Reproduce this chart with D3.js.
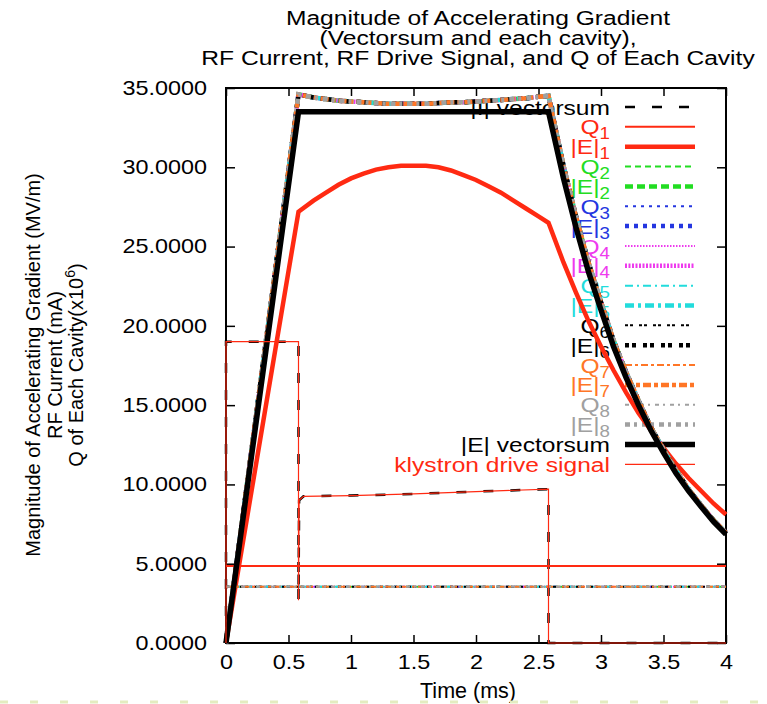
<!DOCTYPE html>
<html>
<head>
<meta charset="utf-8">
<script src="https://cdn.jsdelivr.net/npm/d3@7"></script>
<style>
  body { margin: 0; background: #fff; }
  text { font-family: "Liberation Sans", Arial, Helvetica, sans-serif; }
</style>
</head>
<body>
<div id="container"></div>
<script>
"use strict";

// time axis (ms) for the gradient curves
var timeE = [0, 0.58, 0.7, 0.8, 0.9, 1.0, 1.1, 1.2, 1.3, 1.4, 1.5, 1.6, 1.7, 1.8, 1.9, 2.0, 2.1, 2.2, 2.3, 2.4, 2.5,
             2.58, 2.7, 2.8, 2.9, 3.0, 3.1, 3.2, 3.3, 3.4, 3.5, 3.6, 3.7, 3.8, 3.9, 4.0];
// |E| vectorsum (MV/m)
var eVectorsum = [0, 33.5, 33.5, 33.5, 33.5, 33.5, 33.5, 33.5, 33.5, 33.5, 33.5, 33.5, 33.5, 33.5, 33.5, 33.5, 33.5, 33.5, 33.5, 33.5, 33.5,
                  33.5, 29.3, 26.2, 23.4, 21.0, 18.7, 16.75, 15.0, 13.4, 12.0, 10.7, 9.6, 8.6, 7.66, 6.85];
// |E|1
var eCavity1 = [0, 27.2, 27.9, 28.4, 28.9, 29.3, 29.6, 29.85, 30.0, 30.1, 30.1, 30.1, 30.0, 29.8, 29.5, 29.2, 28.8, 28.4, 27.9, 27.4, 26.9,
                26.5, 24.0, 22.1, 20.3, 18.7, 17.2, 15.8, 14.5, 13.4, 12.3, 11.3, 10.4, 9.6, 8.8, 8.1];
// |E|2 .. |E|8 lie on top of each other
var eCavityRest = [0, 34.6, 34.4, 34.3, 34.2, 34.15, 34.1, 34.05, 34.0, 34.0, 34.0, 34.0, 34.05, 34.1, 34.1, 34.15, 34.2, 34.25, 34.3, 34.35, 34.45,
                   34.5, 30.1, 26.9, 24.0, 21.5, 19.1, 17.1, 15.3, 13.6, 12.2, 10.9, 9.7, 8.7, 7.75, 6.95];

// RF current / klystron drive
var timeDrive = [0, 0, 0.58, 0.58, 0.585, 0.62, 1.0, 1.5, 2.0, 2.58, 2.58, 4.0];
var currentVectorsum = [0, 19.0, 19.0, 2.7, 9.0, 9.25, 9.3, 9.4, 9.55, 9.7, 0, 0];
var driveSignal = [0, 19.0, 19.0, 2.7, 9.0, 9.25, 9.3, 9.4, 9.55, 9.7, 0, 0];

// Q of each cavity (x10^6)
var timeQ = [0, 4];
var qLevels = [4.85, 3.55, 3.55, 3.55, 3.55, 3.55, 3.55, 3.55];

var xTicks = [0, 0.5, 1, 1.5, 2, 2.5, 3, 3.5, 4];
var yTicks = [0, 5, 10, 15, 20, 25, 30, 35];

var titleLines = ["Magnitude of Accelerating Gradient", "(Vectorsum and each cavity),", "RF Current, RF Drive Signal, and Q of Each Cavity"];

var cavityColors = ["#ff2a12", "#22dd22", "#2436e0", "#ee3aee", "#22dcdc", "#000000", "#ff7626", "#a0a0a0"];
var dashQ = [null, "6,4", "3,5", "1.5,1.5", "8,4,2,4", "3,2,3,6", "7,3,3,3", "4,4,2,5"];
var dashE = [null, "8,4", "4,5", "2,1.5", "9,4,3,4", "4,3,4,7", "8,3,4,3", "5,4,3,5"];

var W = 767, H = 704;
var SX = 1.17; // horizontal stretch of the original raster fonts

var svg = d3.select("#container").append("svg").attr("width", W).attr("height", H);

var x = d3.scaleLinear().domain([0, 4]).range([226, 726]);
var y = d3.scaleLinear().domain([0, 35]).range([643, 88]);

// title
titleLines.forEach(function (t, i) {
    svg.append("text")
        .attr("transform", "translate(478," + (25 + i * 19.8) + ") scale(1.23,1)")
        .attr("text-anchor", "middle")
        .attr("font-size", 20)
        .attr("fill", "#000")
        .text(t);
});

// axes (ticks point inward, mirrored on top/right)
function styleAxis(g) {
    g.select(".domain").remove();
    g.selectAll(".tick line").attr("stroke", "#000").attr("stroke-width", 1.5);
    g.selectAll(".tick text").attr("fill", "#000").attr("font-size", 20)
        .attr("font-family", "'Liberation Sans', Arial, sans-serif");
}

var gx = svg.append("g").attr("transform", "translate(0,643)")
    .call(d3.axisBottom(x).tickValues(xTicks).tickSize(-8).tickSizeOuter(0).tickPadding(12)
        .tickFormat(function (d) { return String(d); }));
styleAxis(gx);
gx.selectAll(".tick text").attr("transform", "scale(" + SX + ",1)");

var gy = svg.append("g").attr("transform", "translate(226,0)")
    .call(d3.axisLeft(y).tickValues(yTicks).tickSize(-9).tickSizeOuter(0).tickPadding(19)
        .tickFormat(d3.format(".4f")));
styleAxis(gy);
gy.selectAll(".tick text").attr("x", -19 / SX).attr("transform", "scale(" + SX + ",1)");

var gTop = svg.append("g").attr("transform", "translate(0,88)")
    .call(d3.axisTop(x).tickValues(xTicks).tickSize(-8).tickSizeOuter(0).tickFormat(""));
styleAxis(gTop);
var gRight = svg.append("g").attr("transform", "translate(726,0)")
    .call(d3.axisRight(y).tickValues(yTicks).tickSize(-9).tickSizeOuter(0).tickFormat(""));
styleAxis(gRight);

svg.append("rect").attr("x", 226).attr("y", 88).attr("width", 500).attr("height", 555)
    .attr("fill", "none").attr("stroke", "#000").attr("stroke-width", 2);

// axis labels
svg.append("text").attr("x", 468).attr("y", 698).attr("text-anchor", "middle")
    .attr("font-size", 21.5).text("Time (ms)");

var yl = svg.append("g").attr("transform", "translate(0,365) rotate(-90)");
yl.append("text").attr("x", 0).attr("y", 40).attr("text-anchor", "middle").attr("font-size", 20)
    .text("Magnitude of Accelerating Gradient (MV/m)");
yl.append("text").attr("x", 0).attr("y", 61.5).attr("text-anchor", "middle").attr("font-size", 20)
    .text("RF Current (mA)");
var yl3 = yl.append("text").attr("x", 0).attr("y", 83).attr("text-anchor", "middle").attr("font-size", 20);
yl3.append("tspan").text("Q of Each Cavity(x10");
yl3.append("tspan").attr("baseline-shift", "super").attr("font-size", 14).text("6");
yl3.append("tspan").text(")");

// series list in drawing order
var series = [];
series.push({ name: ["|I| vectorsum"], color: "#000", width: 2.5, dash: "10,17", t: timeDrive, v: currentVectorsum });
for (var i = 0; i < 8; i++) {
    series.push({ name: ["Q", String(i + 1)], color: cavityColors[i], width: 2, dash: dashQ[i], t: timeQ, v: [qLevels[i], qLevels[i]] });
    series.push({ name: ["|E|", String(i + 1)], color: cavityColors[i], width: 4.5, dash: dashE[i], t: timeE, v: i === 0 ? eCavity1 : eCavityRest });
}
series.push({ name: ["|E| vectorsum"], color: "#000", width: 5.5, dash: null, t: timeE, v: eVectorsum });
series.push({ name: ["klystron drive signal"], color: "#ff2a12", width: 1.2, dash: null, t: timeDrive, v: driveSignal });

// legend (drawn first; curves pass over it)
var key = svg.append("g").attr("class", "key");
series.forEach(function (s, i) {
    var ly = 107 + i * 19.85;
    var txt = key.append("text")
        .attr("transform", "translate(610," + ly + ") scale(" + SX + ",1)")
        .attr("text-anchor", "end").attr("dy", "0.36em").attr("font-size", 21)
        .attr("fill", s.color);
    txt.append("tspan").text(s.name[0]);
    if (s.name[1]) {
        txt.append("tspan").attr("dy", 5).attr("font-size", 16).text(s.name[1]);
    }
    key.append("line").attr("x1", 625).attr("x2", 695).attr("y1", ly).attr("y2", ly)
        .attr("stroke", s.color).attr("stroke-width", s.width)
        .attr("stroke-dasharray", s.dash);
});

// curves
var line = d3.line().x(function (d) { return x(d[0]); }).y(function (d) { return y(d[1]); });
var plot = svg.append("g").attr("class", "curves");
series.forEach(function (s) {
    plot.append("path")
        .attr("d", line(d3.zip(s.t, s.v)))
        .attr("fill", "none")
        .attr("stroke", s.color)
        .attr("stroke-width", s.width)
        .attr("stroke-dasharray", s.dash);
});

// faint scan artefact along the bottom edge of the original
svg.append("line").attr("x1", 0).attr("x2", W).attr("y1", 702).attr("y2", 702)
    .attr("stroke", "#e4ecc0").attr("stroke-width", 3).attr("stroke-dasharray", "8,22");
</script>
</body>
</html>
